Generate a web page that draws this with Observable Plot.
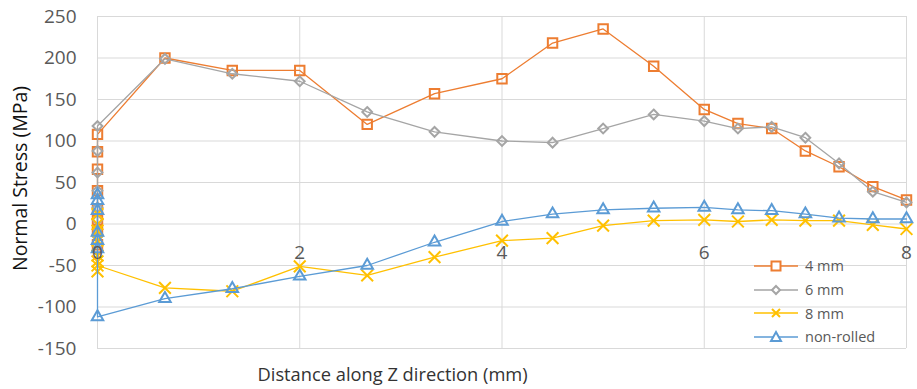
<!DOCTYPE html>
<html>
<head>
<meta charset="utf-8">
<script src="https://cdn.jsdelivr.net/npm/d3@7"></script>
<script src="https://cdn.jsdelivr.net/npm/@observablehq/plot@0.6"></script>
<style>
  body { margin: 0; background: #fff; }
  #wrap { position: relative; width: 917px; height: 389px; font-family: "Open Sans", sans-serif; }
  #legend { position: absolute; left: 752px; top: 254px; font-size: 14.5px; color: #595959; }
  #legend .row { display: flex; align-items: center; height: 23.7px; }
  #legend svg { display: block; margin-right: 5px; }
</style>
</head>
<body>
<div id="wrap"></div>
<script>
// Distances (mm) of the points after the surface stack at x = 0
const distances = [0.667, 1.333, 2, 2.667, 3.333, 4, 4.5, 5, 5.5, 6, 6.333, 6.667, 7, 7.333, 7.667, 8];
// Values measured at the surface (x = 0)
const surface4 = [-25, -8, 5, 18, 40, 66, 87, 108];
const surface6 = [-32, -15, 5, 20, 40, 62, 88, 118];
const surface8 = [12, 0, -8, -20, -38, -45, -57, -50];
const surfaceNR = [35, 28, 16, -10, -20, -30, -112];
// Values along Z
const stress4 = [200, 185, 185, 120, 157, 175, 218, 235, 190, 138, 121, 115, 88, 69, 45, 29];
const stress6 = [199, 181, 172, 135, 111, 100, 98, 115, 132, 124, 115, 117, 104, 73, 39, 26];
const stress8 = [-77, -81, -51, -62, -40, -20, -17, -2, 4, 5, 3, 5, 4, 4, -1, -6];
const stressNR = [-90, -78, -63, -50, -22, 3, 12, 17, 19, 20, 17, 16, 12, 7, 6, 6];

const seriesNames = ["4 mm", "6 mm", "8 mm", "non-rolled"];
const seriesColors = ["#ED7D31", "#A5A5A5", "#FFC000", "#5B9BD5"];
const xTicks = [0, 2, 4, 6, 8];
const yTicks = [-150, -100, -50, 0, 50, 100, 150, 200, 250];

function build(name, surface, stress) {
  return surface.map(v => ({series: name, x: 0, y: v}))
    .concat(stress.map((v, i) => ({series: name, x: distances[i], y: v})));
}
const data = [
  build(seriesNames[0], surface4, stress4),
  build(seriesNames[1], surface6, stress6),
  build(seriesNames[2], surface8, stress8),
  build(seriesNames[3], surfaceNR, stressNR)
];
const symbols = ["square2", "diamond2", "times", "triangle2"];
const radii = [6, 4.4, 5.4, 5.5];

const marks = [
  Plot.gridY(yTicks, {stroke: "#d9d9d9", strokeOpacity: 1, strokeWidth: 1}),
  Plot.gridX(xTicks, {stroke: "#d9d9d9", strokeOpacity: 1, strokeWidth: 1}),
  Plot.axisY(yTicks, {tickSize: 0, tickPadding: 21, fontSize: 19, fill: "#595959", label: null, tickFormat: d => String(d)}),
  Plot.text(["Normal Stress (MPa)"], {frameAnchor: "left", dx: -77, dy: -4, rotate: -90, textAnchor: "middle", fontSize: 19.5, fill: "#111", text: d => d}),
  Plot.text(["Distance along Z direction (mm)"], {frameAnchor: "bottom-left", dx: 160, dy: 32, fontSize: 18.3, fill: "#333", text: d => d, textAnchor: "start"})
];
data.forEach((d, i) => {
  marks.push(Plot.line(d, {x: "x", y: "y", stroke: seriesColors[i], strokeWidth: 1.3}));
  marks.push(Plot.dot(d, {x: "x", y: "y", symbol: symbols[i], r: radii[i], stroke: seriesColors[i], strokeWidth: 2, fill: "none"}));
});
marks.push(Plot.text(xTicks, {x: d => d, y: 0, dy: 29, text: d => String(d), fontSize: 19, fill: "#595959", textAnchor: "middle"}));

const chart = Plot.plot({
  width: 917,
  height: 389,
  marginLeft: 97,
  marginRight: 11,
  marginTop: 16,
  marginBottom: 41,
  style: {fontFamily: "'Open Sans', sans-serif", background: "#fff"},
  x: {domain: [0, 8], axis: null},
  y: {domain: [-150, 250], axis: null},
  marks
});
const wrap = document.getElementById("wrap");
wrap.appendChild(chart);

// Legend
const legend = document.createElement("div");
legend.id = "legend";
const symPaths = [
  "M-4.5,-4.5h9v9h-9z",
  "M0,-4L4,0L0,4L-4,0Z",
  "M-4,-4L4,4M4,-4L-4,4",
  "M0,-5L5,4H-5Z"
];
seriesNames.forEach((n, i) => {
  const row = document.createElement("div");
  row.className = "row";
  row.innerHTML = `<svg width="48" height="16"><line x1="2" y1="8" x2="46" y2="8" stroke="${seriesColors[i]}" stroke-width="1.3"/><path transform="translate(24,8)" d="${symPaths[i]}" fill="white" stroke="${seriesColors[i]}" stroke-width="2"/></svg><span>${n}</span>`;
  legend.appendChild(row);
});
wrap.appendChild(legend);
</script>
</body>
</html>
